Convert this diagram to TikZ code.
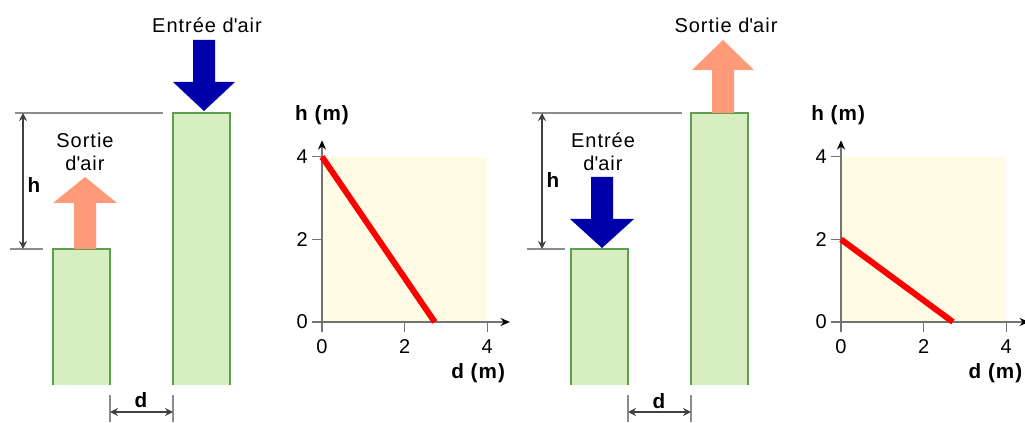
\documentclass[tikz,border=0pt]{standalone}
\usepackage{fontspec}
\setmainfont{Liberation Sans}[LetterSpace=5]
\usetikzlibrary{arrows.meta, positioning}

\definecolor{wallgreen}{HTML}{D6EEC0}
\definecolor{wallborder}{HTML}{5E9E4E}
\definecolor{inblue}{HTML}{0000AA}
\definecolor{outorange}{HTML}{FF9A78}
\definecolor{plotbg}{HTML}{FFFBE4}
\definecolor{guidegray}{HTML}{8C8C8C}

\tikzset{
  lbl/.style={font=\fontsize{15}{17}\selectfont, inner sep=0pt, align=center},
  blbl/.style={font=\fontsize{15.5}{17}\selectfont\bfseries, inner sep=0pt},
  wall/.style={fill=wallgreen},
  wallline/.style={draw=wallborder, line width=1.5pt},
  guide/.style={draw=guidegray, line width=1pt},
  dimline/.style={draw=black!75, line width=1pt, {Stealth[length=6pt,width=6pt]}-{Stealth[length=6pt,width=6pt]}},
  axis/.style={draw=black!55, line width=1pt},
  axisarrow/.style={axis, -{Stealth[length=7pt,width=6pt,color=black]}},
  curve/.style={draw=red, line width=4.5pt},
}

\begin{document}
\begin{tikzpicture}[x=0.75pt,y=-0.75pt]
  \useasboundingbox (0,0) rectangle (1025,423);

  % ---- left case: high inlet, low outlet ----
  \fill[wall] (53,385) rectangle (110,249);
  \draw[wallline] (53,385) |- (110,249) -- (110,385);
  \fill[wall] (173,385) rectangle (230,113);
  \draw[wallline] (173,385) |- (230,113) -- (230,385);

  \fill[outorange] (74,249) -- (74,203) -- (53,203) -- (85,177) -- (117,203) -- (96,203) -- (96,249) -- cycle;
  \fill[inblue] (193,40) -- (193,82) -- (173,82) -- (204,111) -- (235,82) -- (215,82) -- (215,40) -- cycle;

  \coordinate (topL1) at (15,113);
  \coordinate (topL2) at (163,113);
  \coordinate (lowL1) at (10,249);
  \coordinate (lowL2) at (43,249);
  \draw[guide] (topL1) -- (topL2);
  \draw[guide] (lowL1) -- (lowL2);
  \coordinate (hTopL) at (23,113);
  \coordinate (hBotL) at (23,249);
  \draw[dimline] (hTopL) -- (hBotL);

  \coordinate (dAL) at (110,395);
  \coordinate (dBL) at (173,395);
  \draw[guide] (dAL) -- ++(0,27);
  \draw[guide] (dBL) -- ++(0,27);
  \draw[dimline] (110,412) -- (173,412);

  \node[lbl] (inL) at (207,25) {Entrée d\textquotesingle air};
  \node[lbl] (outL) at (85,152) {Sortie\\d\textquotesingle air};
  \node[blbl] (hL) at (34,185) {h};
  \node[blbl] (dL) at (141,400) {d};

  \begin{scope}[shift={(322,322)}, x=30.975pt, y=30.975pt]
    \fill[plotbg] (0,0) rectangle (4,4);
    \coordinate (oL) at (0,0);
    \coordinate (xEndL) at (4.55,0);
    \coordinate (yEndL) at (0,4.4);
    \draw[axisarrow] (-0.25,0) -- (xEndL);
    \draw[axisarrow] (0,-0.25) -- (yEndL);
    \foreach \v in {2,4} {
      \draw[axis] (\v,-0.25) -- (\v,0);
      \draw[axis] (-0.25,\v) -- (0,\v);
    }
    \foreach \v in {0,2,4} {
      \node[lbl] at (\v,-0.6) {\v};
      \node[lbl] at (-0.48,\v) {\v};
    }
    \draw[curve] (0,4) -- (2.73,0);
    \node[blbl] (hAxL) at (0,5.0) {h (m)};
    \node[blbl] (dAxL) at (3.78,-1.23) {d (m)};
  \end{scope}

  % ---- right case: low inlet, high outlet ----
  \fill[wall] (571,385) rectangle (628,249);
  \draw[wallline] (571,385) |- (628,249) -- (628,385);
  \fill[wall] (691,385) rectangle (748,113);
  \draw[wallline] (691,385) |- (748,113) -- (748,385);

  \fill[inblue] (591,177) -- (591,219) -- (570,219) -- (602,248) -- (634,219) -- (613,219) -- (613,177) -- cycle;
  \fill[outorange] (712,113) -- (712,70) -- (692,70) -- (723,40) -- (754,70) -- (734,70) -- (734,113) -- cycle;

  \coordinate (topR1) at (532,113);
  \coordinate (topR2) at (682,113);
  \coordinate (lowR1) at (527,249);
  \coordinate (lowR2) at (565,249);
  \draw[guide] (topR1) -- (topR2);
  \draw[guide] (lowR1) -- (lowR2);
  \coordinate (hTopR) at (542,113);
  \coordinate (hBotR) at (542,249);
  \draw[dimline] (hTopR) -- (hBotR);

  \coordinate (dAR) at (628,395);
  \coordinate (dBR) at (691,395);
  \draw[guide] (dAR) -- ++(0,27);
  \draw[guide] (dBR) -- ++(0,27);
  \draw[dimline] (628,412) -- (691,412);

  \node[lbl] (outR) at (726,25) {Sortie d\textquotesingle air};
  \node[lbl] (inR) at (603,152) {Entrée\\d\textquotesingle air};
  \node[blbl] (hR) at (553,180) {h};
  \node[blbl] (dR) at (659,401) {d};

  \begin{scope}[shift={(841,322)}, x=30.975pt, y=30.975pt]
    \fill[plotbg] (0,0) rectangle (4,4);
    \coordinate (oR) at (0,0);
    \coordinate (xEndR) at (4.55,0);
    \coordinate (yEndR) at (0,4.4);
    \draw[axisarrow] (-0.25,0) -- (xEndR);
    \draw[axisarrow] (0,-0.25) -- (yEndR);
    \foreach \v in {2,4} {
      \draw[axis] (\v,-0.25) -- (\v,0);
      \draw[axis] (-0.25,\v) -- (0,\v);
    }
    \foreach \v in {0,2,4} {
      \node[lbl] at (\v,-0.6) {\v};
      \node[lbl] at (-0.48,\v) {\v};
    }
    \draw[curve] (0,2) -- (2.71,0);
    \node[blbl] (hAxR) at (-0.07,5.0) {h (m)};
    \node[blbl] (dAxR) at (3.74,-1.23) {d (m)};
  \end{scope}
\end{tikzpicture}
\end{document}
